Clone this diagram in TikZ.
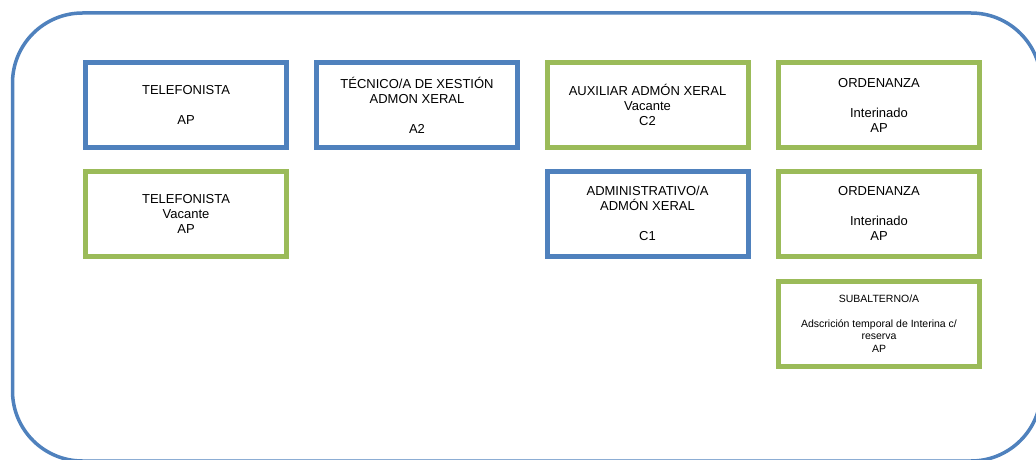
\documentclass[tikz,border=0pt]{standalone}
\usepackage{fontspec}
\setmainfont{Liberation Sans}
\definecolor{ofblue}{HTML}{4F81BD}
\definecolor{ofgreen}{HTML}{9BBB59}
\begin{document}
\begin{tikzpicture}[x=1pt,y=-1pt,
  box/.style={draw,line width=5pt,rectangle,minimum width=201pt,minimum height=85pt,
    inner sep=0pt,align=center,font=\fontsize{13}{15}\selectfont},
  bluebox/.style={box,draw=ofblue},
  greenbox/.style={box,draw=ofgreen},
  smallbox/.style={greenbox,font=\fontsize{10.5}{12.6}\selectfont}]
\useasboundingbox (0,0) rectangle (1036,460);
\begin{scope}
\clip (0,0) rectangle (1036,460);
\draw[ofblue,line width=3.5pt,rounded corners=70pt] (12.5,13) rectangle (1041,461);
\end{scope}
\node[bluebox] (tel1) at (186,105) {TELEFONISTA\\[15pt]AP};
\node[bluebox] (tec) at (417,105) {TÉCNICO/A DE XESTIÓN\\ADMON XERAL\\[15pt]A2};
\node[greenbox] (aux) at (647.5,105) {AUXILIAR ADMÓN XERAL\\Vacante\\C2};
\node[greenbox] (ord1) at (879,105) {ORDENANZA\\[15pt]Interinado\\AP};
\node[greenbox] (tel2) at (186,213.5) {TELEFONISTA\\Vacante\\AP};
\node[bluebox] (adm) at (647.5,213.5) {ADMINISTRATIVO/A\\ADMÓN XERAL\\[15pt]C1};
\node[greenbox] (ord2) at (879,213.5) {ORDENANZA\\[15pt]Interinado\\AP};
\node[smallbox] (sub) at (879,323.5) {SUBALTERNO/A\\[12.6pt]Adscrición temporal de Interina c/\\reserva\\AP};
\end{tikzpicture}
\end{document}
